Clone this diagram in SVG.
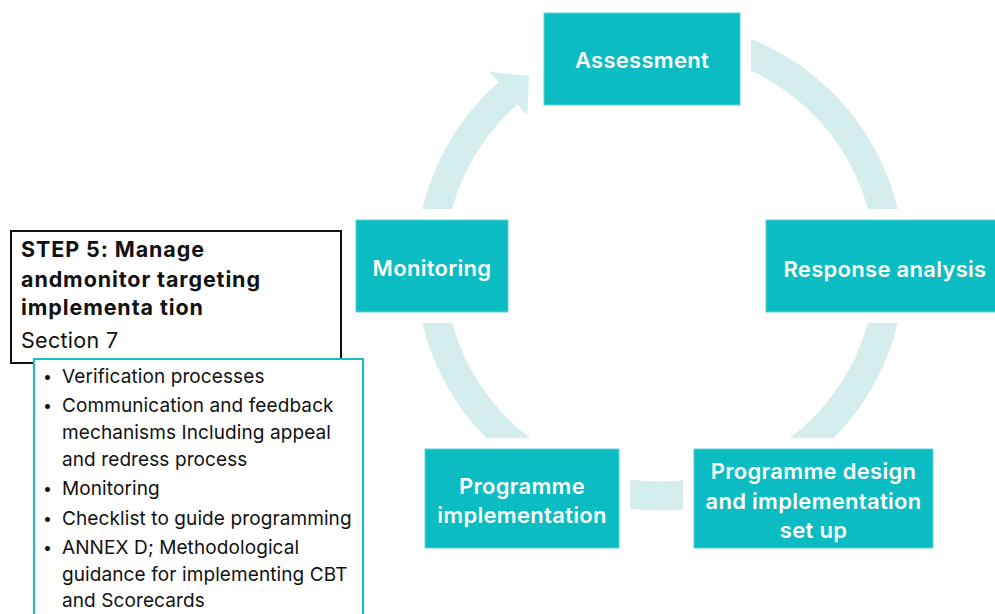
<svg xmlns="http://www.w3.org/2000/svg" width="995" height="614" viewBox="0 0 995 614">
  <style>
    .box { fill: #0bbdc2; stroke: #5fd2d5; stroke-width: 1; }
    .lbl { font-family: Inter, "Liberation Sans", sans-serif; font-weight: 600; font-size: 22px; letter-spacing: 0.3px; fill: #ffffff; text-anchor: middle; }
    .ring { fill: none; stroke: #d5eded; stroke-width: 29; }
    .title { font-family: Inter, "Liberation Sans", sans-serif; font-weight: 700; font-size: 21.5px; letter-spacing: 0.9px; fill: #111111; }
    .sec { font-family: Inter, "Liberation Sans", sans-serif; font-weight: 400; font-size: 21.5px; letter-spacing: 0.3px; fill: #111111; }
    .li { font-family: Inter, "Liberation Sans", sans-serif; font-weight: 400; font-size: 19px; letter-spacing: 0.1px; fill: #111111; }
    .bul { font-family: Inter, "Liberation Sans", sans-serif; font-size: 16px; fill: #111111; }
  </style>
  <defs>
    <clipPath id="clipRing">
      <rect x="751" y="0" width="244" height="209"/>
      <rect x="0" y="323" width="995" height="115"/>
      <rect x="630" y="440" width="53" height="100"/>
    </clipPath>
    <clipPath id="clipUL">
      <rect x="0" y="0" width="660" height="209"/>
    </clipPath>
  </defs>
  <rect width="995" height="614" fill="#ffffff"/>

  <g id="connectors">
    <circle class="ring" cx="660" cy="266" r="230" clip-path="url(#clipRing)"/>
    <path class="ring" d="M 430.2 276 A 230 230 0 0 1 508 93.4" clip-path="url(#clipUL)"/>
    <polygon points="488.8,71.6 529,76 527.2,115.2" fill="#d5eded"/>
  </g>

  <g id="node-assessment">
    <rect class="box" x="544" y="13" width="196" height="92"/>
    <text class="lbl" x="642" y="68">Assessment</text>
  </g>
  <g id="node-response-analysis">
    <rect class="box" x="766" y="220" width="235" height="92"/>
    <text class="lbl" x="885" y="276.5">Response analysis</text>
  </g>
  <g id="node-programme-design">
    <rect class="box" x="694" y="449" width="239" height="99"/>
    <text class="lbl" x="813.5" y="479">Programme design</text>
    <text class="lbl" x="813.5" y="508.5">and implementation</text>
    <text class="lbl" x="813.5" y="537.5">set up</text>
  </g>
  <g id="node-programme-implementation">
    <rect class="box" x="425" y="449" width="194" height="99"/>
    <text class="lbl" x="522" y="494">Programme</text>
    <text class="lbl" x="522" y="523">implementation</text>
  </g>
  <g id="node-monitoring">
    <rect class="box" x="356" y="220" width="152" height="92"/>
    <text class="lbl" x="432" y="276">Monitoring</text>
  </g>

  <g id="step5-box">
    <rect x="11" y="231" width="330" height="132" fill="#ffffff" stroke="#111111" stroke-width="2"/>
    <text class="title" x="21" y="257">STEP 5: Manage</text>
    <text class="title" x="21" y="286.5">andmonitor targeting</text>
    <text class="title" x="21" y="315">implementa tion</text>
    <text class="sec" x="21" y="347.5">Section 7</text>
  </g>

  <g id="step5-list">
    <rect x="34" y="359" width="329" height="270" fill="#ffffff" stroke="#19bfc4" stroke-width="2"/>
    <g class="bul">
      <text x="43" y="382">•</text>
      <text x="43" y="411">•</text>
      <text x="43" y="493.5">•</text>
      <text x="43" y="523.5">•</text>
      <text x="43" y="552.5">•</text>
    </g>
    <g class="li">
      <text x="62" y="383">Verification processes</text>
      <text x="62" y="412">Communication and feedback</text>
      <text x="62" y="439">mechanisms Including appeal</text>
      <text x="62" y="466">and redress process</text>
      <text x="62" y="494.5">Monitoring</text>
      <text x="62" y="524.5">Checklist to guide programming</text>
      <text x="62" y="553.5">ANNEX D; Methodological</text>
      <text x="62" y="580.5">guidance for implementing CBT</text>
      <text x="62" y="607">and Scorecards</text>
    </g>
  </g>
</svg>
